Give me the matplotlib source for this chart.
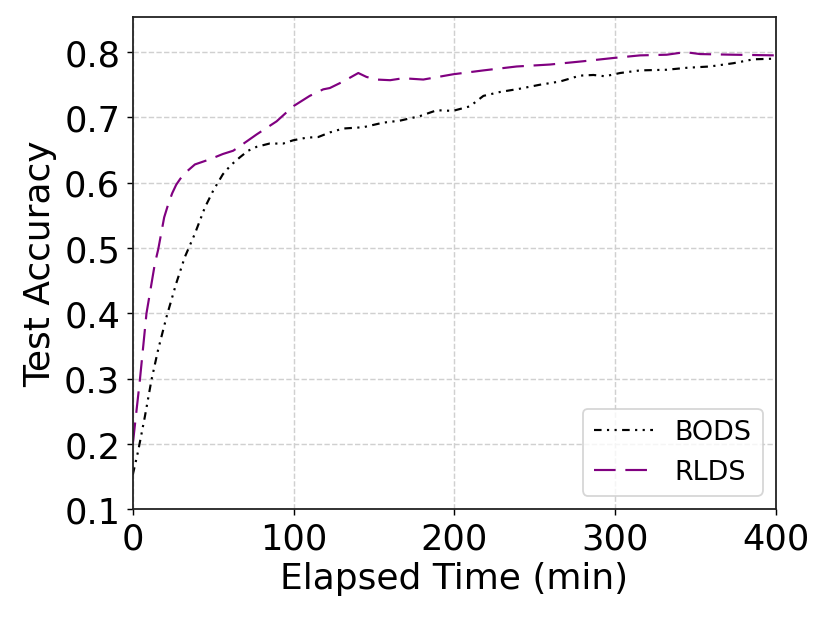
import numpy as np
import matplotlib
matplotlib.use('Agg')
import matplotlib.pyplot as plt

# values
bods_t = [0, 3.3, 7.5, 11.6, 15.7, 21, 27, 32.3, 38.6, 44.8, 50, 56, 61, 66.6, 71.7, 77,
          85, 93.5, 99.7, 108, 115.3, 122.5, 130.8, 143.3, 155.7, 166, 178.5, 189, 199,
          209.6, 218, 228.4, 240.7, 253, 265.6, 278, 286.4, 293.6, 303, 315.4, 332, 344.5,
          358.9, 373.4, 385.9, 400]
bods_acc = [0.153, 0.189, 0.242, 0.298, 0.344, 0.395, 0.446, 0.486, 0.522, 0.562, 0.588, 0.613,
            0.627, 0.639, 0.649, 0.655, 0.660, 0.660, 0.665, 0.669, 0.670, 0.677, 0.683, 0.685,
            0.692, 0.695, 0.702, 0.711, 0.710, 0.717, 0.733, 0.739, 0.744, 0.750, 0.755, 0.764,
            0.765, 0.763, 0.768, 0.772, 0.773, 0.776, 0.778, 0.783, 0.789, 0.790]

rlds_t = [0, 4.4, 8.5, 13.7, 15.8, 19.5, 22, 24.5, 27, 29.5, 33, 38.6, 48, 56, 62.4, 66.6,
          77, 89.4, 99.7, 110, 118.4, 122.5, 130.8, 140.2, 145.3, 151.6, 160, 168, 180.6,
          199, 218, 238.7, 259.4, 280, 298.8, 315.4, 332, 343.4, 352.7, 373.4, 400]
rlds_acc = [0.200, 0.298, 0.400, 0.476, 0.498, 0.547, 0.567, 0.584, 0.597, 0.606, 0.616, 0.628,
            0.636, 0.644, 0.649, 0.656, 0.674, 0.694, 0.717, 0.733, 0.743, 0.745, 0.755, 0.768,
            0.762, 0.758, 0.757, 0.760, 0.758, 0.766, 0.772, 0.778, 0.781, 0.786, 0.791, 0.795,
            0.796, 0.800, 0.797, 0.796, 0.795]

fig = plt.figure(figsize=(6.4, 4.8), dpi=129.7)
ax = fig.add_axes([0.160, 0.181, 0.775, 0.790])

ax.plot(bods_t, bods_acc, color='black', linewidth=1.2,
        linestyle=(0, (3.5, 2.5, 1, 2.5, 1, 2.5)), label='BODS')
ax.plot(rlds_t, rlds_acc, color='purple', linewidth=1.2,
        linestyle=(0, (10, 4.5)), label='RLDS')

ax.set_xlim(0, 400)
ax.set_ylim(0.1, 0.853)
ax.set_xticks([0, 100, 200, 300, 400])
ax.set_yticks([0.1, 0.2, 0.3, 0.4, 0.5, 0.6, 0.7, 0.8])
ax.tick_params(labelsize=19.5)
ax.set_xlabel('Elapsed Time (min)', fontsize=20, labelpad=3)
ax.set_ylabel('Test Accuracy', fontsize=20)
ax.grid(True, linestyle='--', color='#d0d0d0', linewidth=0.8)
for s in ax.spines.values():
    s.set_color('#222222')
    s.set_linewidth(1.0)

ax.legend(loc='lower right', fontsize=15, handlelength=2.2)

plt.savefig('out.png')
plt.close()
